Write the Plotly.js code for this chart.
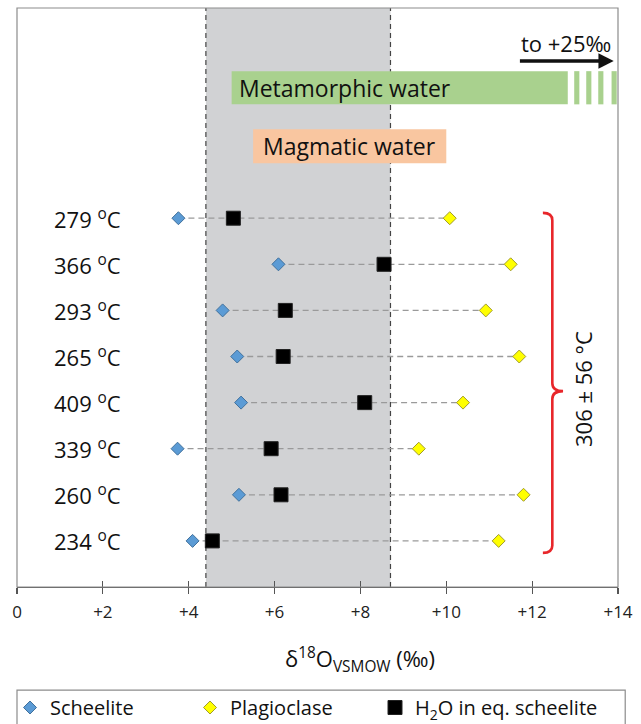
<!DOCTYPE html>
<html>
<head>
<meta charset="utf-8">
<script src="https://cdn.plot.ly/plotly-3.0.1.min.js"></script>
<style>
  html, body { margin: 0; padding: 0; background: #fff; }
  #chart { width: 641px; height: 724px; }
</style>
</head>
<body>
<div id="chart"></div>
<script>
// Homogenisation temperature of each sample, top row first
const temps = [279, 366, 293, 265, 409, 339, 260, 234];
// δ18O (‰ VSMOW) per sample
const scheelite = [3.76, 6.09, 4.79, 5.13, 5.22, 3.74, 5.17, 4.09];
const h2o = [5.04, 8.55, 6.25, 6.20, 8.10, 5.92, 6.15, 4.55];
const plagioclase = [10.08, 11.50, 10.92, 11.70, 10.39, 9.36, 11.80, 11.22];
// x-axis ticks
const tickVals = [0, 2, 4, 6, 8, 10, 12, 14];
const tickText = ["0", "+2", "+4", "+6", "+8", "+10", "+12", "+14"];
// fluid reservoirs (‰)
const magmaticRange = [4.4, 8.7];
const metamorphicStart = 5.0;
const magmaticBox = [5.5, 10.0];
const meanTemp = "306 ± 56 °C";

const FONT = "'Open Sans', sans-serif";
const n = temps.length;
const rowY = temps.map((t, i) => n - 1 - i);

// dashed tie lines from scheelite to plagioclase
const tieX = [], tieY = [];
rowY.forEach((y, i) => {
  tieX.push(scheelite[i], plagioclase[i], null);
  tieY.push(y, y, null);
});

const traces = [
  { x: tieX, y: tieY, mode: "lines", showlegend: false, hoverinfo: "skip",
    line: { color: "#9a9a9a", width: 1.3, dash: "6px,4px" } },
  { x: scheelite, y: rowY, mode: "markers", name: "Scheelite", legend: "legend",
    marker: { symbol: "diamond", size: 10, color: "#5b9bd5", line: { color: "#41719c", width: 1 } } },
  { x: plagioclase, y: rowY, mode: "markers", name: "Plagioclase", legend: "legend2",
    marker: { symbol: "diamond", size: 10, color: "#ffff00", line: { color: "#a09a30", width: 1 } } },
  { x: h2o, y: rowY, mode: "markers", name: "H<sub>2</sub>O in eq. scheelite", legend: "legend3",
    marker: { symbol: "square", size: 14, color: "#000000", line: { color: "#222", width: 1 } } },
  // carrier for the inner tick marks
  { x: [0], y: [0], xaxis: "x2", yaxis: "y", mode: "markers", showlegend: false,
    hoverinfo: "skip", marker: { opacity: 0 } }
];

const shapes = [
  // magmatic-range band
  { type: "rect", xref: "x", yref: "paper", x0: magmaticRange[0], x1: magmaticRange[1], y0: 0, y1: 1,
    fillcolor: "#d1d2d4", line: { width: 0 }, layer: "below" },
  { type: "line", xref: "x", yref: "paper", x0: magmaticRange[0], x1: magmaticRange[0], y0: 0, y1: 1,
    line: { color: "#444", width: 1.2, dash: "5px,4px" }, layer: "below" },
  { type: "line", xref: "x", yref: "paper", x0: magmaticRange[1], x1: magmaticRange[1], y0: 0, y1: 1,
    line: { color: "#444", width: 1.2, dash: "5px,4px" }, layer: "below" },
  // metamorphic water bar with broken end
  { type: "rect", xref: "x", yref: "y", x0: metamorphicStart, x1: 12.83, y0: 9.47, y1: 10.19,
    fillcolor: "#a9d18e", line: { width: 0 } },
  { type: "rect", xref: "x", yref: "y", x0: 12.98, x1: 13.10, y0: 9.47, y1: 10.19, fillcolor: "#a9d18e", line: { width: 0 } },
  { type: "rect", xref: "x", yref: "y", x0: 13.26, x1: 13.38, y0: 9.47, y1: 10.19, fillcolor: "#a9d18e", line: { width: 0 } },
  { type: "rect", xref: "x", yref: "y", x0: 13.54, x1: 13.66, y0: 9.47, y1: 10.19, fillcolor: "#a9d18e", line: { width: 0 } },
  { type: "rect", xref: "x", yref: "y", x0: 13.85, x1: 13.97, y0: 9.47, y1: 10.19, fillcolor: "#a9d18e", line: { width: 0 } },
  // magmatic water box
  { type: "rect", xref: "x", yref: "y", x0: magmaticBox[0], x1: magmaticBox[1], y0: 8.19, y1: 8.93,
    fillcolor: "#f9c6a0", line: { width: 0 } },
  // plot frame
  { type: "rect", xref: "paper", yref: "paper", x0: 0, x1: 1, y0: 0, y1: 1,
    line: { color: "#8c8c8c", width: 1.2 } },
  // legend frame
  { type: "rect", xref: "paper", yref: "paper", x0: 0, x1: 1.012, y0: -0.178, y1: -0.26,
    line: { color: "#8c8c8c", width: 1.2 } },
  // brace grouping all samples
  { type: "path", xref: "x", yref: "y",
    path: "M 12.25,7.115 Q 12.47,7.115 12.47,6.95 L 12.47,3.42 Q 12.47,3.25 12.72,3.25 " +
          "Q 12.47,3.25 12.47,3.08 L 12.47,-0.1 Q 12.47,-0.26 12.25,-0.26",
    line: { color: "#e8262a", width: 2.6 } }
];

const annotations = temps.map((t, i) => ({
  x: 1.64, y: rowY[i], xref: "x", yref: "y", showarrow: false,
  text: t + " <sup>o</sup>C", font: { family: FONT, size: 22, color: "#111" },
  xanchor: "center", yanchor: "middle"
}));

annotations.push(
  { x: 5.12, y: 9.83, xref: "x", yref: "y", showarrow: false, xanchor: "left",
    text: "Metamorphic water", font: { family: FONT, size: 23, color: "#111" } },
  { x: 7.75, y: 8.56, xref: "x", yref: "y", showarrow: false, xanchor: "center",
    text: "Magmatic water", font: { family: FONT, size: 23, color: "#111" } },
  { x: 12.78, y: 10.8, xref: "x", yref: "y", showarrow: false, xanchor: "center",
    text: "to +25‰", font: { family: FONT, size: 22, color: "#111" } },
  { x: 13.9, y: 10.41, ax: 11.68, ay: 10.41, xref: "x", yref: "y", axref: "x", ayref: "y",
    showarrow: true, arrowhead: 2, arrowsize: 0.9, arrowwidth: 3.4, arrowcolor: "#111", text: "" },
  { x: 13.19, y: 3.3, xref: "x", yref: "y", showarrow: false, textangle: -90,
    text: meanTemp, font: { family: FONT, size: 22, color: "#111" } },
  { x: 8.0, y: -0.126, xref: "x", yref: "paper", showarrow: false, yanchor: "middle",
    text: "δ<sup>18</sup>O<sub>VSMOW</sub> (‰)", font: { family: FONT, size: 22, color: "#111" } }
);

// one legend box per series so the entries sit at fixed offsets
function legendAt(px) {
  return {
    orientation: "h", xref: "container", yref: "container",
    x: px / 641, xanchor: "left", y: 1 - 688 / 724, yanchor: "top",
    borderwidth: 0, bgcolor: "rgba(0,0,0,0)",
    font: { family: FONT, size: 20, color: "#111" }
  };
}

const layout = {
  width: 641, height: 724,
  margin: { l: 17, r: 23, t: 8, b: 137, autoexpand: false },
  paper_bgcolor: "#fff", plot_bgcolor: "#fff",
  font: { family: FONT, color: "#111" },
  showlegend: true,
  legend: legendAt(10),
  legend2: legendAt(190),
  legend3: legendAt(375),
  xaxis: {
    range: [0, 14], tickvals: tickVals, ticktext: tickText,
    showgrid: false, zeroline: false, showline: true, linecolor: "#555", linewidth: 1.2,
    ticks: "outside", ticklen: 6, tickwidth: 1.2, tickcolor: "#555", ticklabelstandoff: 3,
    tickfont: { family: FONT, size: 17, color: "#222" }, fixedrange: true
  },
  xaxis2: {
    overlaying: "x", matches: "x", side: "bottom", range: [0, 14], tickvals: tickVals,
    showticklabels: false, showgrid: false, zeroline: false, showline: false,
    ticks: "inside", ticklen: 6, tickwidth: 1.2, tickcolor: "#555"
  },
  yaxis: {
    range: [-1, 11.56], showgrid: false, zeroline: false, showline: false,
    showticklabels: false, ticks: "", fixedrange: true
  },
  shapes: shapes,
  annotations: annotations
};

Plotly.newPlot("chart", traces, layout, { displayModeBar: false, staticPlot: true });
</script>
</body>
</html>
